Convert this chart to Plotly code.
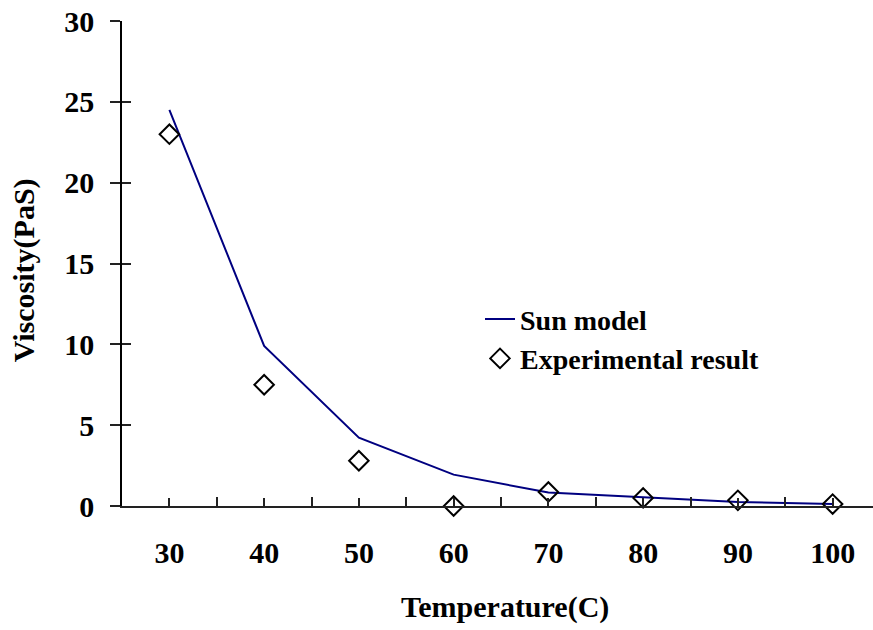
import plotly.graph_objects as go

# Temperature (C) and viscosity (Pa·s)
temperature = [30, 40, 50, 60, 70, 80, 90, 100]
sun_model = [24.5, 9.9, 4.23, 1.94, 0.83, 0.52, 0.25, 0.12]
experimental = [23.0, 7.5, 2.8, 0.0, 0.87, 0.5, 0.35, 0.12]

y_ticks = [0, 5, 10, 15, 20, 25, 30]

FONT = "Liberation Serif, Times New Roman, serif"
W, H = 873, 630
ML, MR, MT, MB = 122, 0, 21, 124

fig = go.Figure()

fig.add_trace(go.Scatter(
    x=temperature, y=sun_model, mode="lines", name="<b>Sun model</b>",
    line=dict(color="#000080", width=2),
))
fig.add_trace(go.Scatter(
    x=temperature, y=experimental, mode="markers", name="<b>Experimental result</b>",
    marker=dict(symbol="diamond-open", size=15, color="black",
                line=dict(color="black", width=2)),
    cliponaxis=False,
))
# invisible companion trace carrying the inward y ticks
fig.add_trace(go.Scatter(x=[temperature[0]], y=[0], yaxis="y2", mode="markers",
                         marker=dict(opacity=0), showlegend=False, hoverinfo="skip"))

fig.update_layout(
    width=W, height=H,
    margin=dict(l=ML, r=MR, t=MT, b=MB),
    paper_bgcolor="white", plot_bgcolor="white",
    font=dict(family=FONT, size=30, color="black"),
    showlegend=True,
    legend=dict(x=(480 - ML) / (W - ML), y=(505.7 - 294) / 485,
                xanchor="left", yanchor="top",
                bgcolor="rgba(0,0,0,0)", borderwidth=0,
                font=dict(family=FONT, size=28, color="black"),
                tracegroupgap=0),
    xaxis=dict(
        range=[25, 104.26], showgrid=False, zeroline=False,
        showline=True, linecolor="#222", linewidth=1.5,
        tickmode="array", tickvals=temperature,
        ticktext=[f"<b>{t}</b>" for t in temperature],
        ticks="inside", ticklen=8, tickwidth=1.5, tickcolor="#222",
        ticklabelstandoff=19,
        minor=dict(tick0=25, dtick=10, ticks="inside", ticklen=9,
                   tickwidth=1.5, tickcolor="#222", showgrid=False),
    ),
    yaxis=dict(
        range=[0, 30], showgrid=False, zeroline=False,
        showline=True, linecolor="black", linewidth=1.5,
        tickmode="array", tickvals=y_ticks,
        ticktext=[f"<b>{v}</b>" for v in y_ticks],
        ticks="outside", ticklen=10, tickwidth=1.5, tickcolor="#222",
        ticklabelstandoff=10,
    ),
    yaxis2=dict(
        range=[0, 30], overlaying="y", side="left", showgrid=False,
        zeroline=False, showline=False, showticklabels=False,
        tickmode="array", tickvals=y_ticks,
        ticks="inside", ticklen=9, tickwidth=1.5, tickcolor="#222",
    ),
    annotations=[
        dict(text="<b>Temperature(C)</b>", xref="paper", yref="paper",
             x=(505 - ML) / (W - ML), y=(505.7 - 607) / 485,
             xanchor="center", yanchor="middle", showarrow=False,
             font=dict(family=FONT, size=30)),
        dict(text="<b>Viscosity(PaS)</b>", xref="paper", yref="paper",
             x=(24 - ML) / (W - ML), y=(505.7 - 270) / 485,
             xanchor="center", yanchor="middle", showarrow=False, textangle=-90,
             font=dict(family=FONT, size=30)),
    ],
)

fig.write_html("out.html")
